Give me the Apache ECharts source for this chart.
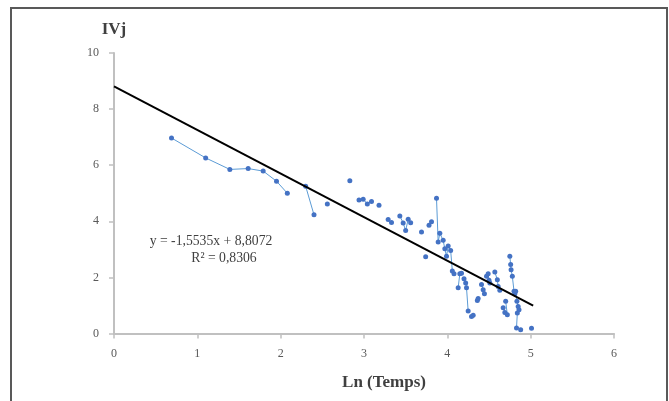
<!DOCTYPE html>
<html><head><meta charset="utf-8">
<script src="https://cdn.jsdelivr.net/npm/echarts@6/dist/echarts.min.js"></script>
<style>html,body{margin:0;padding:0;background:#fff}#c{width:669px;height:401px}</style>
</head><body><div id="c"></div>
<script>
// Observed points; null marks a break in the connecting line
var lnTemps = [0.69,1.10,1.39,1.61,1.79,1.95,2.08,null,
  2.30,2.40,null,2.56,null,2.83,null,
  2.94,2.99,3.04,3.09,null,3.18,null,3.29,3.33,null,
  3.43,3.47,3.50,3.53,3.56,null,3.69,null,3.74,null,3.78,3.81,null,
  3.87,3.89,3.91,3.95,3.97,3.99,4.01,4.04,4.06,4.08,null,
  4.13,4.15,4.17,null,4.20,4.22,4.23,4.25,null,4.29,4.31,null,4.36,4.37,null,
  4.41,4.43,4.445,null,4.47,4.49,4.50,4.51,null,4.57,4.60,4.61,4.63,null,
  4.67,4.69,null,4.70,4.72,null,
  4.75,4.76,4.765,4.78,4.80,4.81,4.82,4.835,4.85,4.86,4.84,4.83,null,4.88,null,5.01];
var ivj = [6.97,6.26,5.85,5.88,5.79,5.43,5.00,null,
  5.25,4.23,null,4.62,null,5.45,null,
  4.76,4.79,4.62,4.71,null,4.57,null,4.06,3.96,null,
  4.19,3.94,3.67,4.07,3.95,null,3.62,null,2.74,null,3.86,3.98,null,
  4.82,3.26,3.57,3.32,3.02,2.75,3.12,2.96,2.23,2.13,null,
  1.63,2.13,2.15,null,1.95,1.80,1.63,0.80,null,0.61,0.65,null,1.18,1.25,null,
  1.75,1.56,1.42,null,2.04,2.13,1.90,1.80,null,2.19,1.92,1.68,1.54,null,
  0.92,0.75,null,1.15,0.67,null,
  2.75,2.46,2.27,2.04,1.51,1.42,1.51,1.15,0.96,0.85,0.73,0.20,null,0.13,null,0.19];
// Trend line endpoints (y = -1,5535x + 8,8072)
var trendX = [0, 5.03];
var trendY = [8.81, 0.99];
var xTicks = [0,1,2,3,4,5,6];
var yTicks = [0,2,4,6,8,10];

var pts = lnTemps.map(function(x,i){ return x === null ? '-' : [x, ivj[i]]; });
var trend = trendX.map(function(x,i){ return [x, trendY[i]]; });
var serif = 'Liberation Serif';
var chart = echarts.init(document.getElementById('c'), null, {renderer:'canvas'});
chart.setOption({
  animation:false,
  grid:{left:114,right:55,top:53,bottom:67.5},
  xAxis:{type:'value',min:xTicks[0],max:xTicks[xTicks.length-1],interval:1,
    axisLine:{lineStyle:{color:'#c0c0c0',width:2}},
    axisTick:{show:true,length:5,lineStyle:{color:'#c0c0c0',width:1.5}},
    axisLabel:{color:'#595959',fontFamily:serif,fontSize:12,margin:14},
    splitLine:{show:false}},
  yAxis:{type:'value',min:yTicks[0],max:yTicks[yTicks.length-1],interval:2,
    axisLine:{show:true,lineStyle:{color:'#c0c0c0',width:2}},
    axisTick:{show:true,length:5,lineStyle:{color:'#c0c0c0',width:1.5}},
    axisLabel:{color:'#595959',fontFamily:serif,fontSize:12,margin:15},
    splitLine:{show:false}},
  series:[
    {type:'line',data:pts,connectNulls:false,symbol:'circle',symbolSize:5,
     lineStyle:{color:'#5b9bd5',width:1},itemStyle:{color:'#4472c4'},z:2},
    {type:'line',data:trend,symbol:'none',lineStyle:{color:'#000',width:2},z:3}
  ],
  graphic:[
    {type:'rect',shape:{x:11,y:8,width:656,height:420},style:{fill:'none',stroke:'#595959',lineWidth:2},silent:true},
    {type:'text',x:114,y:30,style:{text:'IVj',font:'bold 17px "Liberation Serif"',fill:'#404040',align:'center',verticalAlign:'middle'}},
    {type:'text',x:384,y:383,style:{text:'Ln (Temps)',font:'bold 17px "Liberation Serif"',fill:'#404040',align:'center',verticalAlign:'middle'}},
    {type:'text',x:211,y:241,style:{text:'y = -1,5535x + 8,8072',font:'13.7px "Liberation Serif"',fill:'#404040',align:'center',verticalAlign:'middle'}},
    {type:'text',x:224,y:258,style:{text:'R² = 0,8306',font:'13.7px "Liberation Serif"',fill:'#404040',align:'center',verticalAlign:'middle'}}
  ]
});
</script></body></html>
